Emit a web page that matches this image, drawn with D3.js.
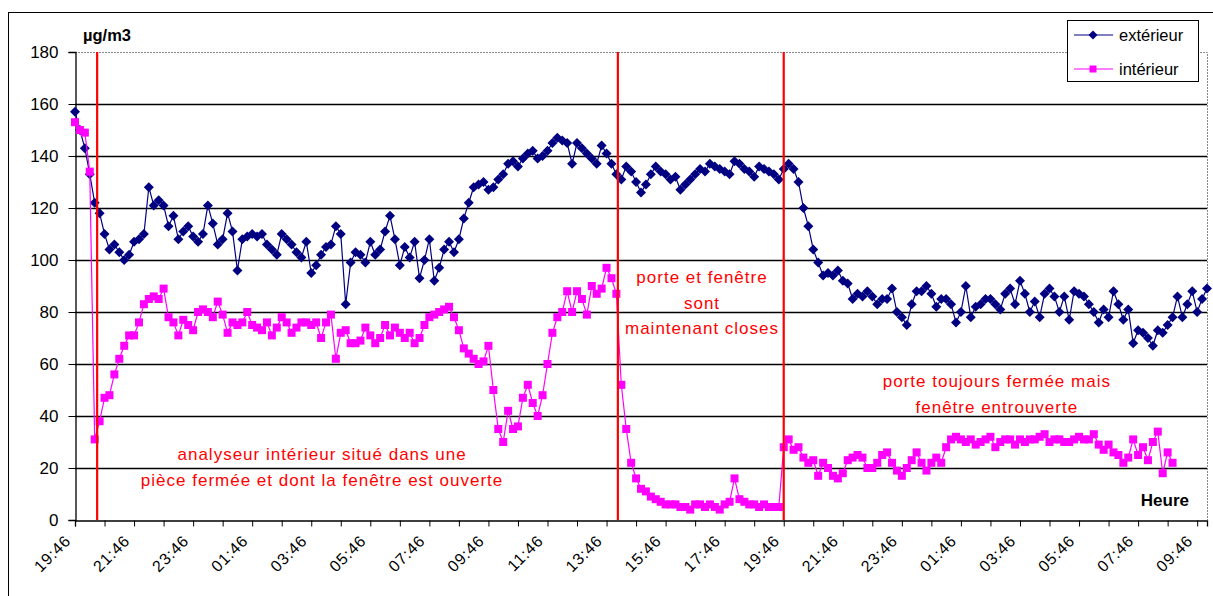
<!DOCTYPE html>
<html><head><meta charset="utf-8">
<script src="https://cdn.jsdelivr.net/npm/d3@7"></script>
<style>body{margin:0;background:#fff}svg{display:block;font-family:"Liberation Sans",Arial,sans-serif}</style>
</head><body>
<script>
// ---- data (10-minute samples starting at 19:46) ----
const stepMinutes = 10;
const exterieur = [157,150,143,133,122,118,110,104,106,103,100,102,107,108,110,128,121,123,121,113,
117,108,111,113,109,107,110,121,114,106,108,118,111,96,108,109,110,109,110,106,
104,102,110,108,106,103,101,107,95,98,102,105,106,113,110,83,99,103,102,99,
107,102,104,111,117,108,98,105,101,107,93,100,108,92,97,104,107,103,108,116,
122,128,129,130,127,128,131,133,137,138,136,139,141,142,139,140,142,145,147,146,
145,137,145,143,141,139,137,144,141,137,133,131,136,134,130,126,129,133,136,134,
133,131,132,127,129,131,133,135,134,137,136,135,134,133,138,137,135,134,132,136,
135,134,133,131,135,137,135,130,120,113,104,99,94,95,94,96,92,91,85,87,
86,88,86,83,85,85,89,80,78,75,83,88,88,90,87,82,85,85,83,76,
80,90,78,82,83,85,85,83,81,87,89,83,92,87,80,84,78,87,89,86,
80,86,77,88,87,86,83,80,76,81,78,88,83,77,81,68,73,72,70,67,
73,72,75,78,86,78,83,88,80,85,89];
const interieur = [153,150,149,134,31,38,47,48,56,62,67,71,71,76,83,85,86,85,89,78,
76,71,77,75,73,80,81,80,78,84,79,72,76,75,76,80,75,74,73,76,
71,74,78,76,72,74,76,76,75,76,70,76,79,62,72,73,68,68,69,74,
71,68,70,75,71,74,72,70,72,68,70,75,78,79,80,81,82,78,73,66,
64,62,60,61,67,50,35,30,42,35,36,47,52,45,40,48,60,72,78,80,
88,80,88,85,79,90,87,89,97,93,87,52,35,22,16,12,11,9,8,7,
6,6,6,5,5,4,6,6,5,6,5,4,6,7,16,8,7,6,6,5,
6,5,5,5,28,31,27,28,24,22,23,17,22,20,17,16,18,23,24,25,
24,20,20,22,25,26,22,19,17,20,23,26,22,19,22,24,22,28,31,32,
31,30,31,29,30,31,32,28,30,31,31,29,31,30,31,31,32,33,30,31,
31,30,30,31,32,31,31,33,29,27,29,26,25,22,24,31,25,28,23,30,
34,18,26,22];
const tickLabels = ["19:46","21:46","23:46","01:46","03:46","05:46","07:46","09:46","11:46","13:46",
"15:46","17:46","19:46","21:46","23:46","01:46","03:46","05:46","07:46","09:46"];
const yTicks = [0,20,40,60,80,100,120,140,160,180];
const eventMinutes = [45, 1103, 1440];
const seriesNames = ["extérieur","intérieur"];
const notes = [
  {lines:["analyseur intérieur situé dans une","pièce fermée et dont la fenêtre est ouverte"], t:502, v:23},
  {lines:["porte et fenêtre","sont","maintenant closes"], t:1274, v:91},
  {lines:["porte toujours fermée mais","fenêtre entrouverte"], t:1873, v:51}
];

// ---- layout ----
const W = 1213, H = 596;
const pL = 75, pR = 1207, pT = 52, pB = 520;
const colExt = "#000080", colInt = "#FF00FF", red = "#FF0000";
const FONT = "Liberation Sans, Arial, sans-serif";

const svg = d3.select("body").append("svg").attr("width", W).attr("height", H);
svg.append("rect").attr("x",8.5).attr("y",12.5).attr("width",1210).attr("height",620)
  .attr("fill","#fff").attr("stroke","#000");

const x = d3.scaleLinear().domain([0, 2300]).range([pL, pR]);
const y = d3.scaleLinear().domain([0, 180]).range([pB, pT]);

// plot border (top/right grey)
svg.append("path").attr("d",`M${pL},${pT+0.5}H${pR+0.5}V${pB}`)
  .attr("fill","none").attr("stroke","#888").attr("stroke-dasharray","2,1");

// gridlines
svg.append("g").selectAll("line").data(yTicks.filter(d=>d>0 && d<180)).join("line")
  .attr("x1",pL).attr("x2",pR).attr("y1",d=>Math.round(y(d))+0.5).attr("y2",d=>Math.round(y(d))+0.5)
  .attr("stroke","#000").attr("stroke-width",1.3);

// y axis
const yAxis = svg.append("g").attr("transform",`translate(${pL+0.5},0)`)
  .call(d3.axisLeft(y).tickValues(yTicks).tickSize(7).tickPadding(10).tickFormat(d3.format("d")));
yAxis.select(".domain").attr("stroke","#000").attr("stroke-width",1.3);
yAxis.selectAll("text").attr("font-size",17).attr("fill","#000").attr("font-family",FONT);

// x axis
const hourTicks = d3.range(0, 2300, 60);
const xAxis = svg.append("g").attr("transform",`translate(0,${pB+0.5})`)
  .call(d3.axisBottom(x).tickValues(hourTicks).tickSize(6).tickFormat(d => (d/60)%2===0 ? tickLabels[d/120] : ""));
xAxis.select(".domain").attr("stroke","#000").attr("stroke-width",1.3);
xAxis.selectAll("text").attr("font-size",16).attr("letter-spacing",0.8).attr("fill","#000").attr("font-family",FONT)
  .attr("text-anchor","end").attr("transform","translate(-14,11) rotate(-45)").attr("dy","0.35em");

// series
const line = d3.line().defined(d=>d!=null).x((d,i)=>x(i*stepMinutes)).y(d=>y(d));
const diamond = "M0,-5L5,0L0,5L-5,0Z";
svg.append("path").datum(exterieur).attr("d",line).attr("fill","none").attr("stroke",colExt).attr("stroke-width",1.2);
svg.append("g").selectAll("path").data(exterieur).join("path")
  .attr("d",diamond)
  .attr("transform",(d,i)=>`translate(${x(i*stepMinutes)},${y(d)})`).attr("fill",colExt);

svg.append("path").datum(interieur).attr("d",line).attr("fill","none").attr("stroke",colInt).attr("stroke-width",1.2);
svg.append("g").selectAll("rect").data(interieur).join("rect")
  .attr("x",(d,i)=>x(i*stepMinutes)-4).attr("y",d=>y(d)-4).attr("width",8).attr("height",8).attr("fill",colInt);

// event lines
svg.append("g").selectAll("line").data(eventMinutes).join("line")
  .attr("x1",d=>x(d)).attr("x2",d=>x(d)).attr("y1",pT).attr("y2",pB)
  .attr("stroke",red).attr("stroke-width",2.2);

// annotations
notes.forEach(n=>{
  const t = svg.append("text").attr("text-anchor","middle").attr("fill",red).attr("font-size",17).attr("letter-spacing",1);
  n.lines.forEach((s,k)=>{
    t.append("tspan").attr("x",x(n.t)).attr("y",y(n.v)+k*25.5).text(s);
  });
});

// titles
svg.append("text").attr("x",83).attr("y",41).attr("font-size",16.5).attr("font-weight","bold").text("µg/m3");
svg.append("text").attr("x",1189).attr("y",506).attr("text-anchor","end").attr("font-size",17).attr("font-weight","bold").text("Heure");

// legend
const lg = svg.append("g");
lg.append("rect").attr("x",1067.5).attr("y",20.5).attr("width",131).attr("height",61).attr("fill","#fff").attr("stroke","#000");
[{c:colExt,yy:35,shape:"d"},{c:colInt,yy:69,shape:"s"}].forEach((e,k)=>{
  lg.append("line").attr("x1",1074).attr("x2",1113).attr("y1",e.yy).attr("y2",e.yy).attr("stroke",e.c).attr("stroke-width",1);
  if(e.shape==="d") lg.append("path").attr("d","M0,-4.5L4.5,0L0,4.5L-4.5,0Z").attr("transform",`translate(1093,${e.yy})`).attr("fill",e.c);
  else lg.append("rect").attr("x",1089.5).attr("y",e.yy-3.5).attr("width",7).attr("height",7).attr("fill",e.c);
  lg.append("text").attr("x",1119).attr("y",e.yy+6).attr("font-size",16.5).text(seriesNames[k]);
});
</script>
</body></html>
